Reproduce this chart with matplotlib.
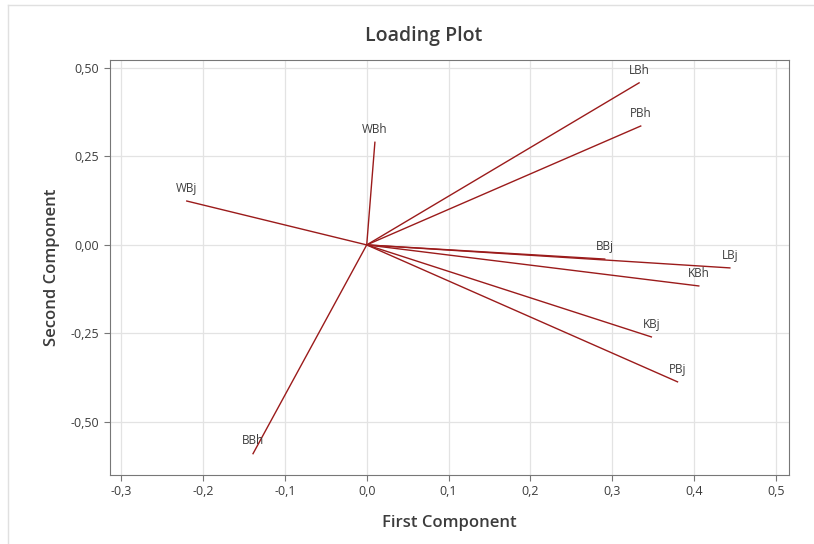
import matplotlib.pyplot as plt
from matplotlib.ticker import FuncFormatter, MultipleLocator

plt.rcParams['font.family'] = ['Open Sans', 'DejaVu Sans']

# loadings
names = ['LBh', 'PBh', 'WBh', 'WBj', 'BBh', 'BBj', 'LBj', 'KBh', 'KBj', 'PBj']
pc1 = [0.333, 0.335, 0.010, -0.220, -0.139, 0.291, 0.444, 0.406, 0.348, 0.380]
pc2 = [0.458, 0.336, 0.290, 0.124, -0.590, -0.040, -0.065, -0.116, -0.260, -0.387]

line_col = '#9b1b1b'
text_col = '#3c3c3c'

fig = plt.figure(figsize=(8.14, 5.44), dpi=100)
ax = fig.add_axes([0.135, 0.127, 0.834, 0.763])

ax.grid(True, color='#e3e3e3', linewidth=0.9)
ax.set_axisbelow(True)

for n, x, y in zip(names, pc1, pc2):
    ax.plot([0, x], [0, y], color=line_col, linewidth=1.0)
    ax.annotate(n, (x, y), xytext=(0, 4.5), textcoords='offset points',
                ha='center', va='bottom', fontsize=8.5, color=text_col)

ax.set_xlim(-0.314, 0.516)
ax.set_ylim(-0.65, 0.523)
ax.xaxis.set_major_locator(MultipleLocator(0.1))
ax.yaxis.set_major_locator(MultipleLocator(0.25))
ax.xaxis.set_major_formatter(FuncFormatter(lambda v, p: f'{v:.1f}'.replace('.', ',').replace('-0,0', '0,0')))
ax.yaxis.set_major_formatter(FuncFormatter(lambda v, p: f'{v:.2f}'.replace('.', ',').replace('-0,00', '0,00')))
ax.tick_params(labelsize=9, colors=text_col, length=4, color='#777777')
for s in ax.spines.values():
    s.set_color('#777777')

ax.set_xlabel('First Component', fontsize=12, color=text_col, labelpad=12, fontweight='semibold')
ax.set_ylabel('Second Component', fontsize=12, color=text_col, labelpad=8, fontweight='semibold')
fig.text(0.52, 0.934, 'Loading Plot', ha='center', va='center', fontsize=14,
         fontweight='semibold', color=text_col)

# faint outer frame lines
fig.add_artist(plt.Line2D([0.01, 0.01], [0, 0.99], transform=fig.transFigure, color='#e0e0e0', linewidth=1))
fig.add_artist(plt.Line2D([0.01, 1], [0.99, 0.99], transform=fig.transFigure, color='#e0e0e0', linewidth=1))

fig.savefig('out.png', dpi=100)
